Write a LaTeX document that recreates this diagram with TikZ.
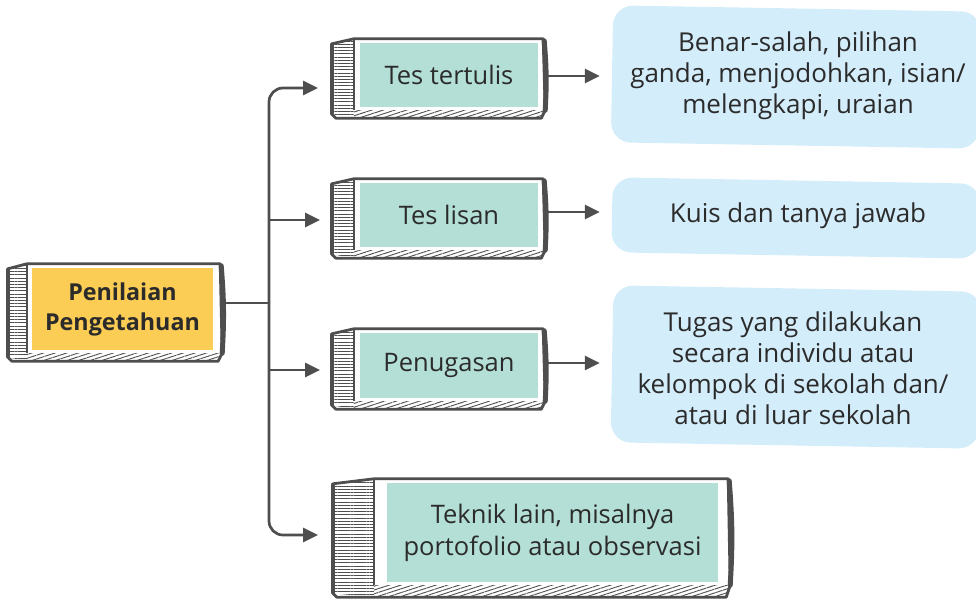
\documentclass[tikz,border=0pt]{standalone}
\usepackage{fontspec}
\setmainfont{Open Sans}
\usetikzlibrary{calc,arrows.meta,patterns.meta,backgrounds}
\definecolor{dk}{RGB}{78,78,78}
\definecolor{txt}{RGB}{43,43,43}
\definecolor{teal1}{RGB}{179,223,214}
\definecolor{yel}{RGB}{252,205,84}
\definecolor{blue1}{RGB}{212,237,250}
\tikzset{
  conn/.style={draw=dk, line width=2.7pt},
  arr/.style={conn, -{Triangle[length=15pt,width=14pt]}},
  tealbox/.style={fill=teal1, minimum width=178pt, minimum height=64pt, inner sep=0pt,
    align=center, text=txt, font=\fontsize{25.5pt}{32pt}\selectfont},
  mainbox/.style={fill=yel, minimum width=181pt, minimum height=82pt, inner sep=0pt,
    align=center, text=txt, font=\fontsize{23.3pt}{30pt}\selectfont\bfseries},
  bluetext/.style={align=center, text=txt, inner sep=0pt, font=\fontsize{26pt}{31pt}\selectfont},
  bluebox/.style={fill=blue1, rounded corners=20pt, rotate=-1, inner sep=0pt, minimum width=368pt}
}
\newcommand\sketchframe[5]{%
\begin{scope}[on background layer]
\coordinate (FNW) at ($(#1.north west)+(-#2,-3)$);
\coordinate (FSE) at ($(#1.south east)+(#3,3)$);
\coordinate (FNE) at (FSE |- FNW);
\coordinate (FSW) at (FNW |- FSE);
\path[fill=white] ($(FNW)+(-#4,4)$) -- ($(FNW)+(0,-1)$) -- ($(FNE)+(0,-1)$) -- ($(FSE)+(2,0)$) -- ($(FSE)+(-2,#5)$) -- ($(FSW)+(-#4+4,#5)$) -- ($(FSW)+(-#4,#5-4)$) -- cycle;
\path[pattern={Lines[angle=0,distance=3.2pt,line width=1pt]},pattern color=dk] ($(FNW)+(-#4,4)$) -- (FNW) -- ($(FSW)+(0,#5)$) -- ($(FSW)+(-#4,#5-4)$) -- cycle;
\path[pattern={Lines[angle=18,distance=3.6pt,line width=0.9pt]},pattern color=dk] (FSW) -- (FSE) -- ($(FSE)+(0,#5)$) -- ($(FSW)+(0,#5)$) -- cycle;
\draw[dk, line width=2pt] (FNW) -- (FSW);
\draw[dk, line width=2.8pt, line join=round] ($(FNW)+(-#4,4)$) -- ($(FNW)+(0,-1)$) -- ($(FNE)+(0,-1)$) -- ($(FSE)+(2,0)$) -- ($(FSE)+(-2,#5)$) -- ($(FSW)+(-#4+4,#5)$) -- ($(FSW)+(-#4,#5-4)$) -- cycle;
\draw[dk, line width=5pt, line cap=round] ($(FNE)+(1,1)$) to[bend left=4] ($(FSE)+(2,0)$);
\draw[dk, line width=4pt, line cap=round] ($(FNW)+(-#4,5)$) -- ($(FSW)+(-#4,#5-5)$);
\end{scope}}
\begin{document}
\begin{tikzpicture}[x=1pt, y=-1pt]
\useasboundingbox (0,0) rectangle (976,598);
% right blue boxes
\node[bluebox, minimum height=137pt] (bAbox) at (796,77) {};
\node[bluebox, minimum height=75pt] (bBbox) at (796,218) {};
\node[bluebox, minimum height=157pt] (bCbox) at (796,367) {};
\node[bluetext] (bA) at (798,76) {Benar-salah, pilihan\\ganda, menjodohkan, isian/\\melengkapi, uraian};
\node[bluetext] (bB) at (798,216) {Kuis dan tanya jawab};
\node[bluetext] (bC) at (793,368) {Tugas yang dilakukan\\secara individu atau\\kelompok di sekolah dan/\\atau di luar sekolah};
% main node and branch nodes
\node[mainbox] (main) at (122.5,309) {Penilaian\\Pengetahuan};
\node[tealbox] (t1) at (449,75) {Tes tertulis};
\node[tealbox] (t2) at (449,215) {Tes lisan};
\node[tealbox, minimum height=65pt] (t3) at (449,365.5) {Penugasan};
\node[tealbox, minimum width=331pt, minimum height=99pt] (t4) at (552.5,532.5) {Teknik lain, misalnya\\portofolio atau observasi};
\sketchframe{main}{5}{7}{19}{8}
\sketchframe{t1}{6}{5}{22}{8}
\sketchframe{t2}{6}{5}{22}{8}
\sketchframe{t3}{6}{5}{22}{8}
\sketchframe{t4}{13}{10}{41}{12}
% connectors
\coordinate (j) at (269,303);
\coordinate (e1) at (318,88);
\coordinate (e2) at (320,220);
\coordinate (e3) at (320,370);
\coordinate (e4) at (318,535);
\draw[conn, shorten <=9pt] (main.east |- j) -- (j);
\draw[arr, rounded corners=14pt] (j) |- (e1);
\draw[arr, rounded corners=14pt] (j) |- (e4);
\draw[arr] (j |- e2) -- (e2);
\draw[arr] (j |- e3) -- (e3);
\draw[arr, shorten <=10pt, shorten >=12pt] ([yshift=-1pt]t1.east) -- ([yshift=-1pt]t1.east -| bAbox.west);
\draw[arr, shorten <=10pt, shorten >=12pt] ([yshift=3pt]t2.east) -- ([yshift=3pt]t2.east -| bBbox.west);
\draw[arr, shorten <=10pt, shorten >=12pt] ([yshift=2.5pt]t3.east) -- ([yshift=2.5pt]t3.east -| bCbox.west);
\end{tikzpicture}
\end{document}
